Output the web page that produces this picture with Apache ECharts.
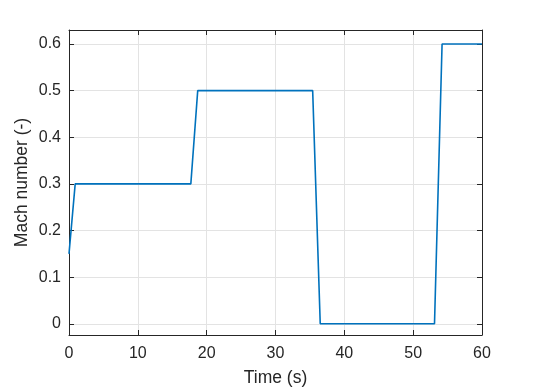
<!DOCTYPE html>
<html>
<head>
<meta charset="utf-8">
<script src="https://cdn.jsdelivr.net/npm/echarts@6/dist/echarts.min.js"></script>
<style>html,body{margin:0;padding:0;background:#fff}#c{width:534px;height:390px}</style>
</head>
<body>
<div id="c"></div>
<script>
var timeS = [0, 0.9, 17.7, 18.7, 35.4, 36.5, 53.1, 54.2, 60];
var mach = [0.15, 0.3, 0.3, 0.5, 0.5, 0, 0, 0.6, 0.6];
var yTicks = [0, 0.1, 0.2, 0.3, 0.4, 0.5, 0.6];
var xLabel = 'Time (s)';
var yLabel = 'Mach number (-)';

var font = "'Liberation Sans', Arial, Helvetica, sans-serif";
var axisCol = '#262626';
var gridCol = '#e3e3e3';
var Y_MIN = -0.024, Y_MAX = 0.63;

var chart = echarts.init(document.getElementById('c'), null, {renderer: 'canvas'});
var pts = timeS.map(function (t, i) { return [t, mach[i]]; });

chart.setOption({
  animation: false,
  backgroundColor: '#fff',
  grid: {left: 69, right: 52, top: 30, bottom: 55, containLabel: false, outerBoundsMode: 'none'},
  xAxis: [{
    type: 'value', min: 0, max: 60, interval: 10, position: 'bottom',
    name: xLabel, nameLocation: 'middle', nameGap: 34, nameMoveOverlap: false,
    nameTextStyle: {fontFamily: font, fontSize: 17.5, color: axisCol},
    axisLine: {show: true, onZero: false, lineStyle: {color: axisCol, width: 1}},
    axisTick: {show: true, inside: true, length: 5, lineStyle: {color: axisCol}},
    axisLabel: {fontFamily: font, fontSize: 16, color: axisCol, margin: 11},
    splitLine: {show: true, lineStyle: {color: gridCol, width: 1}}
  }, {
    type: 'value', min: 0, max: 60, interval: 10, position: 'top',
    axisLine: {show: true, onZero: false, lineStyle: {color: axisCol, width: 1}},
    axisTick: {show: true, inside: true, length: 5, lineStyle: {color: axisCol}},
    axisLabel: {show: false},
    splitLine: {show: false}
  }],
  yAxis: [{
    type: 'value', min: Y_MIN, max: Y_MAX, position: 'left',
    name: yLabel, nameLocation: 'middle', nameGap: 38, nameRotate: 90, nameMoveOverlap: false,
    nameTextStyle: {fontFamily: font, fontSize: 17.5, color: axisCol},
    axisLine: {show: true, onZero: false, lineStyle: {color: axisCol, width: 1}},
    axisTick: {show: true, inside: true, length: 5, customValues: yTicks, lineStyle: {color: axisCol}},
    axisLabel: {fontFamily: font, fontSize: 16, color: axisCol, margin: 8, customValues: yTicks},
    splitLine: {show: true, lineStyle: {color: gridCol, width: 1}}
  }, {
    type: 'value', min: Y_MIN, max: Y_MAX, position: 'right',
    axisLine: {show: true, onZero: false, lineStyle: {color: axisCol, width: 1}},
    axisTick: {show: true, inside: true, length: 5, customValues: yTicks, lineStyle: {color: axisCol}},
    axisLabel: {show: false, customValues: yTicks},
    splitLine: {show: false}
  }],
  series: [{
    type: 'line', xAxisIndex: 0, yAxisIndex: 0, data: pts,
    showSymbol: false, symbol: 'none',
    lineStyle: {color: '#0072BD', width: 1.6},
    itemStyle: {color: '#0072BD'}
  }]
});
</script>
</body>
</html>
